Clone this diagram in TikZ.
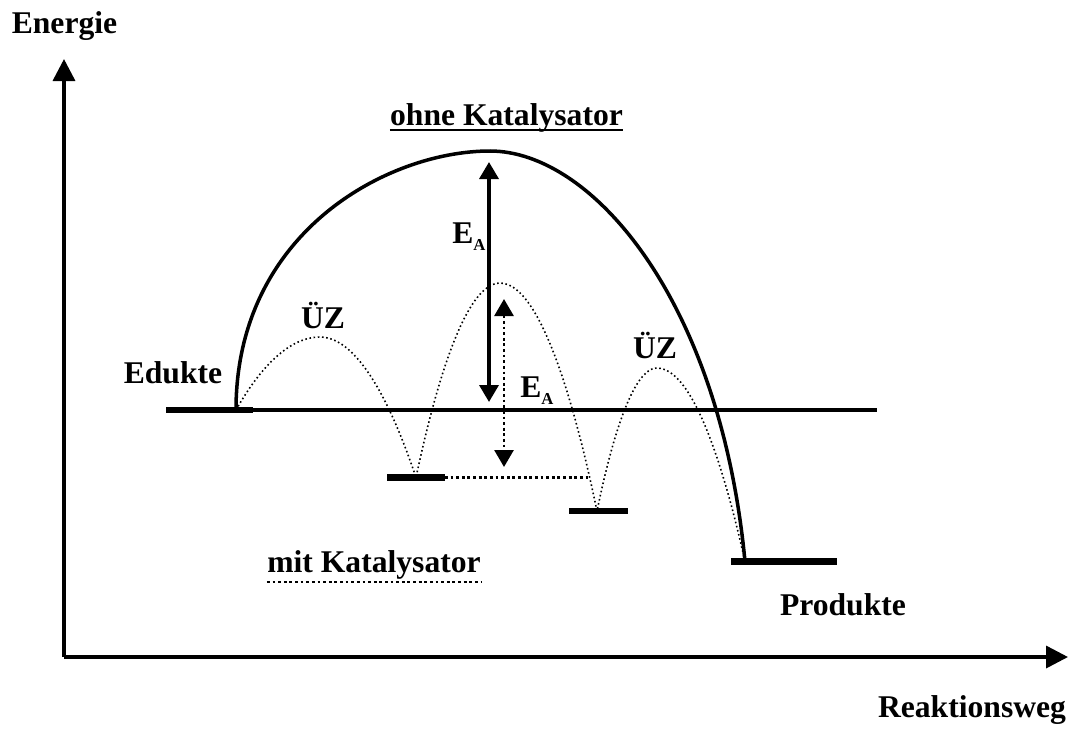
\documentclass[tikz,border=0pt]{standalone}
\usepackage{fontspec}
\setmainfont{Liberation Serif}
\usetikzlibrary{arrows.meta}
\newcommand{\Esub}{E\raisebox{-4pt}{\fontsize{9.5}{9.5}\selectfont A}}

\begin{document}
\begin{tikzpicture}[x=0.02cm, y=-0.02cm,
  lbl/.style={font=\fontsize{18}{21}\selectfont\bfseries, inner sep=0pt, anchor=base},
  axis/.style={line width=2pt, -{Triangle[length=0.44cm, width=0.44cm]}},
  level/.style={line width=3.9pt},
  course/.style={line width=2pt},
  fine/.style={line width=0.9pt, dash pattern=on 0.9pt off 1.5pt},
  coarse/.style={line width=1.6pt, dash pattern=on 1.6pt off 1.6pt},
  ea/.style={{Triangle[length=0.34cm, width=0.38cm]}-{Triangle[length=0.34cm, width=0.38cm]}}]
  \useasboundingbox (0,0) rectangle (1075,731);

  % Define coordinates
  \coordinate (O)   at (64,657);    % origin
  \coordinate (Ey)  at (64,59);     % tip of energy axis
  \coordinate (Ex)  at (1068,657);  % tip of reaction axis
  \coordinate (Ed1) at (166,410);   \coordinate (Ed2) at (253,410);   % Edukte level
  \coordinate (EdS) at (236,410);   % start of both courses
  \coordinate (Lv)  at (877,410);   % end of Edukte line
  \coordinate (Z1a) at (387,477.5); \coordinate (Z1b) at (445,477.5); % first intermediate
  \coordinate (Z1S) at (416,477.5);
  \coordinate (Z2a) at (569,511);   \coordinate (Z2b) at (628,511);   % second intermediate
  \coordinate (Z2S) at (597,511);
  \coordinate (Z1e) at (588,477.5);
  \coordinate (Pr1) at (731,561.5); \coordinate (Pr2) at (837,561.5); % Produkte level
  \coordinate (PrS) at (745,561.5);
  \coordinate (Top) at (490,151);   % maximum without catalyst

  % Axes
  \draw[axis] (O) -- (Ey);
  \draw[axis] (O) -- (Ex);
  \node[lbl] (energie) at (64.5,33) {Energie};
  \node[lbl] (weg) at (972,717) {Reaktionsweg};

  % Energy levels
  \draw[level] (Ed1) -- (Ed2);
  \draw[course] (Ed2) -- (Lv);
  \draw[level] (Z1a) -- (Z1b);
  \draw[level] (Z2a) -- (Z2b);
  \draw[level] (Pr1) -- (Pr2);
  \draw[coarse] (Z1b) -- (Z1e);

  % Course without catalyst
  \draw[course] (EdS) .. controls (236,232) and (388,151) .. (Top)
    .. controls (592,151) and (720,300) .. (PrS);

  % Course with catalyst
  \draw[fine] (EdS) parabola bend (320,337) (Z1S)
    parabola bend (500,283) (Z2S)
    parabola bend (657,368) (PrS);

  % Activation energies
  \coordinate (A1) at (489,162); \coordinate (A2) at (489,402);
  \coordinate (B1) at (504,299); \coordinate (B2) at (504,467);
  \draw[ea, line width=2pt] (A1) -- (A2);
  \draw[ea, coarse] (B1) -- (B2);
  \node[lbl, anchor=base west] (ea1) at (452,243) {\Esub};
  \node[lbl, anchor=base west] (ea2) at (520,397) {\Esub};

  % Labels
  \node[lbl] (ohne) at (506.5,125) {ohne Katalysator};
  \draw[line width=1.2pt] ([yshift=-0.1cm]ohne.base west) -- ([yshift=-0.1cm]ohne.base east);
  \node[lbl] (mit) at (374,572) {mit Katalysator};
  \draw[coarse] ([yshift=-0.2cm]mit.base west) -- ([yshift=-0.2cm]mit.base east);
  \node[lbl] (edukte) at (173,383) {Edukte};
  \node[lbl] (produkte) at (843,615) {Produkte};
  \node[lbl] (uz1) at (323,328) {ÜZ};
  \node[lbl] (uz2) at (655,358) {ÜZ};
\end{tikzpicture}
\end{document}
